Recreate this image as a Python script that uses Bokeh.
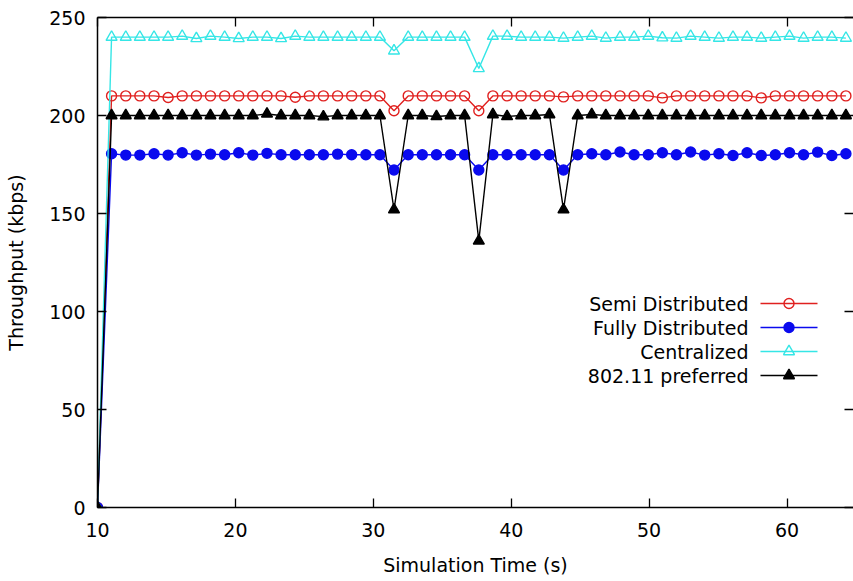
from bokeh.plotting import figure
from bokeh.models import LinearAxis, FixedTicker, Label, CustomJSTickFormatter
from bokeh.embed import file_html
from bokeh.resources import INLINE

# Simulation sample times (s)
times = [10.00, 11.02, 12.05, 13.07, 14.10, 15.12, 16.14, 17.17, 18.19, 19.22,
         20.24, 21.26, 22.29, 23.31, 24.34, 25.36, 26.38, 27.41, 28.43, 29.46,
         30.48, 31.50, 32.53, 33.55, 34.58, 35.60, 36.62, 37.65, 38.67, 39.70,
         40.72, 41.74, 42.77, 43.79, 44.82, 45.84, 46.86, 47.89, 48.91, 49.94,
         50.96, 51.98, 53.01, 54.03, 55.06, 56.08, 57.10, 58.13, 59.15, 60.18,
         61.20, 62.22, 63.25, 64.27]

# Throughput (kbps) per scheme
semi_distributed = [0, 210, 210, 210, 210, 209.2, 210, 210, 210, 210,
                    210, 210, 210, 210, 209.3, 210, 210, 210, 210, 210,
                    210, 202.4, 210, 210, 210, 210, 210, 202.4, 210, 210,
                    210, 210, 210, 209.5, 210, 210, 210, 210, 210, 210,
                    209, 210, 210, 210, 210, 210, 210, 209, 210, 210,
                    210, 210, 210, 210]

fully_distributed = [0, 180.5, 179.8, 179.8, 180.5, 179.8, 181, 179.8, 180.3, 180,
                     181, 179.8, 180.7, 180, 180, 180, 180, 180.3, 180, 180,
                     180, 172.2, 180, 180, 180, 180, 180, 172.2, 180, 180,
                     180, 180, 180, 172.2, 180, 180.5, 180, 181.4, 180, 180,
                     181, 180, 181.4, 179.8, 180.5, 179.6, 181, 179.6, 180, 181,
                     180, 181.3, 179.6, 180.5]

centralized = [0, 240, 240, 240, 240, 240, 240.5, 239.3, 240.5, 240,
               239.3, 240, 240, 239.3, 240.5, 240, 240, 240, 240, 240,
               240, 233, 240, 240, 240, 240, 240, 224, 240.5, 240.5,
               240, 240, 240, 239.5, 240, 240.5, 239.5, 240, 240, 240.5,
               239.7, 239.5, 240.5, 240, 239.5, 240, 240, 239.5, 240, 240.5,
               239.5, 240, 240, 239.5]

preferred_80211 = [0, 200, 200, 200, 200, 200, 200, 200, 200, 200,
                   200, 200, 200.8, 200, 200, 200, 199.4, 200, 200, 200,
                   200, 152, 200, 200, 199.5, 200, 200, 136, 200.5, 199.5,
                   200, 200, 200.5, 152, 200, 200.5, 200, 200, 200, 200,
                   200, 200, 200, 200, 200, 200, 200, 200, 200, 200,
                   200, 200, 200, 200]

x_ticks = [10, 20, 30, 40, 50, 60]
y_ticks = [0, 50, 100, 150, 200, 250]

FONT = "DejaVu Sans"
FS = "19px"

X0, X1 = 10, 64.82
Y0, Y1 = 0, 250

p = figure(width=853, height=581, x_range=(X0, X1), y_range=(Y0, Y1),
           output_backend="svg", toolbar_location=None,
           min_border_left=97, min_border_right=0, min_border_top=17,
           min_border_bottom=74)
p.outline_line_color = None
p.grid.visible = False
p.background_fill_color = "white"
p.border_fill_color = "white"

def style_axis(ax, ticks):
    ax.ticker = FixedTicker(ticks=ticks)
    ax.axis_line_color = "black"
    ax.axis_line_width = 1.5
    ax.major_tick_line_color = "black"
    ax.major_tick_line_width = 1.3
    ax.major_tick_in = 9
    ax.major_tick_out = 0
    ax.minor_tick_line_color = None
    ax.major_label_text_font = FONT
    ax.major_label_text_font_size = FS
    ax.major_label_text_color = "black"
    ax.axis_label_text_font = FONT
    ax.axis_label_text_font_size = FS
    ax.axis_label_text_font_style = "normal"
    ax.axis_label_text_color = "black"

style_axis(p.xaxis[0], x_ticks)
style_axis(p.yaxis[0], y_ticks)
p.xaxis[0].axis_label = "Simulation Time (s)"
p.xaxis[0].major_label_standoff = 15
p.xaxis[0].axis_label_standoff = 14
p.yaxis[0].axis_label = "Throughput (kbps)"
p.yaxis[0].major_label_standoff = 12
p.yaxis[0].axis_label_standoff = 19

# Mirrored tick marks on the top and right edges
blank = CustomJSTickFormatter(code="return ''")
top = LinearAxis(formatter=blank)
style_axis(top, x_ticks)
top.major_label_text_font_size = "0px"
top.major_label_standoff = 0
p.add_layout(top, "above")
right = LinearAxis(formatter=blank)
style_axis(right, y_ticks)
right.axis_line_color = None
right.major_label_text_font_size = "0px"
right.major_label_standoff = 0
p.add_layout(right, "right")

RED = "#e0201f"
BLUE = "#0a0aee"
CYAN = "#35e6e6"
BLACK = "black"
LW = 1.4

series = [
    ("Semi Distributed", semi_distributed, RED, "circle", None),
    ("Fully Distributed", fully_distributed, BLUE, "circle", BLUE),
    ("Centralized", centralized, CYAN, "triangle", None),
    ("802.11 preferred", preferred_80211, BLACK, "triangle", BLACK),
]

for name, ys, color, marker, fill in series:
    p.line(times, ys, line_color=color, line_width=LW)
    size = 10 if marker == "circle" else 11
    p.scatter(times, ys, marker=marker, size=size, line_color=color,
              line_width=LW, fill_color=fill)

# Key: right-aligned labels with the line sample to their right
def sx(px):
    return X0 + (px - 97) * (X1 - X0) / 756.0

def sy(py):
    return Y0 + (507 - py) * (Y1 - Y0) / 490.0

key_rows = [303, 327, 351, 375]
for (name, ys, color, marker, fill), row in zip(series, key_rows):
    p.add_layout(Label(x=sx(748), y=sy(row), text=name, text_align="right",
                       text_baseline="middle", text_font=FONT,
                       text_font_size=FS, text_color="black"))
    p.line([sx(760), sx(817)], [sy(row), sy(row)], line_color=color, line_width=LW)
    size = 10 if marker == "circle" else 11
    p.scatter([sx(788.5)], [sy(row)], marker=marker, size=size, line_color=color,
              line_width=LW, fill_color=fill)

open("out.html", "w").write(file_html(p, INLINE))
